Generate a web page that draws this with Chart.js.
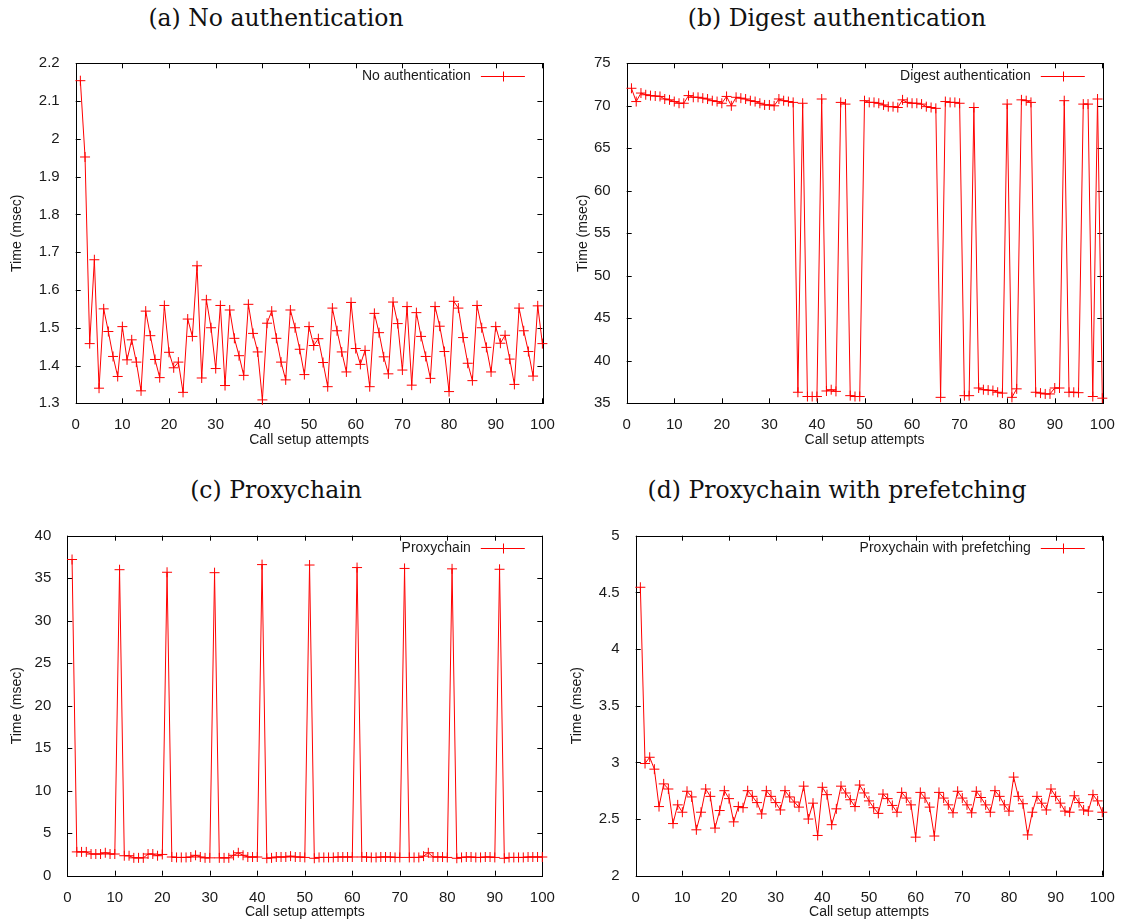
<!DOCTYPE html>
<html>
<head>
<meta charset="utf-8">
<title>Call setup time</title>
<script src="https://cdn.jsdelivr.net/npm/chart.js@4.4.1/dist/chart.umd.min.js"></script>
<style>
  body { margin: 0; background: #fff; width: 1126px; height: 923px; position: relative; overflow: hidden; }
  canvas { position: absolute; }
  .title { position: absolute; width: 500px; text-align: center; white-space: nowrap;
           font-family: "DejaVu Serif", serif; font-size: 23.5px; line-height: 30px; color: #111; }
</style>
</head>
<body>
<div class="title" style="left:26px; top:3px;">(a) No authentication</div>
<div class="title" style="left:587px; top:3px;">(b) Digest authentication</div>
<div class="title" style="left:26px; top:475px;">(c) Proxychain</div>
<div class="title" style="left:587px; top:475px;">(d) Proxychain with prefetching</div>

<canvas id="chartA"></canvas>
<canvas id="chartB"></canvas>
<canvas id="chartC"></canvas>
<canvas id="chartD"></canvas>

<script>
const attempts = [1, 2, 3, 4, 5, 6, 7, 8, 9, 10, 11, 12, 13, 14, 15, 16, 17, 18, 19, 20,
  21, 22, 23, 24, 25, 26, 27, 28, 29, 30, 31, 32, 33, 34, 35, 36, 37, 38, 39, 40,
  41, 42, 43, 44, 45, 46, 47, 48, 49, 50, 51, 52, 53, 54, 55, 56, 57, 58, 59, 60,
  61, 62, 63, 64, 65, 66, 67, 68, 69, 70, 71, 72, 73, 74, 75, 76, 77, 78, 79, 80,
  81, 82, 83, 84, 85, 86, 87, 88, 89, 90, 91, 92, 93, 94, 95, 96, 97, 98, 99, 100];
const xTicks = [0, 10, 20, 30, 40, 50, 60, 70, 80, 90, 100];

// (a) no authentication, msec
const noAuth = [2.154, 1.952, 1.458, 1.68, 1.34, 1.55, 1.49, 1.424, 1.371, 1.503,
  1.415, 1.468, 1.409, 1.333, 1.544, 1.479, 1.416, 1.368, 1.559, 1.435,
  1.394, 1.409, 1.329, 1.523, 1.477, 1.664, 1.367, 1.574, 1.50, 1.392,
  1.559, 1.347, 1.547, 1.472, 1.426, 1.374, 1.562, 1.485, 1.436, 1.309,
  1.512, 1.544, 1.472, 1.409, 1.362, 1.547, 1.50, 1.443, 1.376, 1.503,
  1.453, 1.471, 1.408, 1.344, 1.552, 1.492, 1.436, 1.383, 1.567, 1.445,
  1.403, 1.44, 1.344, 1.538, 1.487, 1.423, 1.378, 1.568, 1.511, 1.388,
  1.556, 1.348, 1.54, 1.477, 1.424, 1.366, 1.556, 1.504, 1.437, 1.331,
  1.57, 1.552, 1.474, 1.406, 1.36, 1.559, 1.50, 1.448, 1.383, 1.503,
  1.459, 1.48, 1.417, 1.35, 1.552, 1.492, 1.437, 1.372, 1.558, 1.458];

// (b) digest authentication
const digest = [72.06, 70.5, 71.5, 71.3, 71.2, 71.15, 71.1, 70.8, 70.7, 70.5,
  70.3, 70.3, 71.2, 71.0, 71.0, 70.9, 70.8, 70.6, 70.5, 70.3,
  71.1, 70.0, 71.0, 70.9, 70.8, 70.6, 70.5, 70.3, 70.1, 70.1,
  70.0, 70.8, 70.6, 70.5, 70.4, 36.3, 70.3, 35.8, 35.8, 35.8,
  70.8, 36.45, 36.6, 36.4, 70.4, 70.2, 35.9, 35.8, 35.8, 70.6,
  70.4, 70.4, 70.3, 70.1, 69.9, 69.9, 69.8, 70.7, 70.4, 70.3,
  70.3, 70.2, 69.9, 69.8, 69.7, 35.7, 70.5, 70.4, 70.4, 70.3,
  35.9, 35.9, 69.8, 36.8, 36.6, 36.55, 36.5, 36.3, 36.2, 70.2,
  35.7, 36.7, 70.7, 70.6, 70.4, 36.3, 36.2, 36.1, 36.1, 36.8,
  36.8, 70.6, 36.3, 36.3, 36.25, 70.2, 70.2, 35.8, 70.8, 35.6];

// (c) proxychain
const proxychain = [37.2, 2.8, 2.8, 2.8, 2.55, 2.55, 2.55, 2.7, 2.55, 2.55,
  36.0, 2.35, 2.35, 2.1, 2.1, 2.1, 2.55, 2.55, 2.35, 2.5,
  35.7, 2.2, 2.15, 2.15, 2.15, 2.2, 2.4, 2.2, 2.1, 2.1,
  35.65, 2.1, 2.1, 2.1, 2.4, 2.7, 2.4, 2.2, 2.2, 2.2,
  36.6, 2.05, 2.1, 2.2, 2.2, 2.2, 2.3, 2.2, 2.2, 2.15,
  36.55, 2.05, 2.15, 2.15, 2.15, 2.15, 2.2, 2.2, 2.2, 2.2,
  36.25, 2.2, 2.2, 2.15, 2.15, 2.2, 2.2, 2.2, 2.15, 2.15,
  36.15, 2.15, 2.15, 2.15, 2.3, 2.7, 2.2, 2.2, 2.2, 2.15,
  36.1, 2.05, 2.15, 2.2, 2.2, 2.15, 2.15, 2.2, 2.2, 2.15,
  36.05, 2.05, 2.15, 2.15, 2.15, 2.15, 2.2, 2.2, 2.2, 2.2];

// (d) proxychain with prefetching
const prefetch = [4.545, 2.99, 3.045, 2.94, 2.61, 2.81, 2.765, 2.46, 2.625, 2.56,
  2.745, 2.695, 2.405, 2.56, 2.765, 2.70, 2.42, 2.575, 2.75, 2.68,
  2.475, 2.61, 2.60, 2.75, 2.70, 2.645, 2.545, 2.75, 2.70, 2.645,
  2.58, 2.75, 2.695, 2.65, 2.605, 2.79, 2.50, 2.64, 2.355, 2.78,
  2.715, 2.45, 2.59, 2.79, 2.73, 2.67, 2.61, 2.80, 2.73, 2.66,
  2.60, 2.55, 2.72, 2.68, 2.62, 2.56, 2.735, 2.685, 2.625, 2.34,
  2.735, 2.685, 2.605, 2.35, 2.735, 2.685, 2.625, 2.555, 2.745, 2.685,
  2.625, 2.555, 2.745, 2.69, 2.625, 2.56, 2.75, 2.70, 2.625, 2.57,
  2.87, 2.70, 2.635, 2.36, 2.56, 2.70, 2.64, 2.58, 2.765, 2.70,
  2.64, 2.57, 2.56, 2.705, 2.645, 2.58, 2.57, 2.715, 2.66, 2.56];

const yTicksA = [1.3, 1.4, 1.5, 1.6, 1.7, 1.8, 1.9, 2, 2.1, 2.2];
const yTicksB = [35, 40, 45, 50, 55, 60, 65, 70, 75];
const yTicksC = [0, 5, 10, 15, 20, 25, 30, 35, 40];
const yTicksD = [2, 2.5, 3, 3.5, 4, 4.5, 5];

const textColor = '#1a1a1a';
const sans = '"Liberation Sans", Arial, sans-serif';
const red = 'rgb(255, 0, 0)';

// gnuplot style border, ticks pointing inwards on all four sides
const framePlugin = {
  id: 'frame',
  beforeDatasetsDraw(chart) {
    const { ctx, chartArea: a, scales: { x, y } } = chart;
    ctx.save();
    ctx.strokeStyle = '#000';
    ctx.lineWidth = 1;
    ctx.beginPath();
    x.ticks.forEach((t, i) => {
      const px = Math.round(x.getPixelForTick(i)) + 0.5;
      ctx.moveTo(px, a.bottom); ctx.lineTo(px, a.bottom - 5);
      ctx.moveTo(px, a.top); ctx.lineTo(px, a.top + 5);
    });
    y.ticks.forEach((t, i) => {
      const py = Math.round(y.getPixelForTick(i)) + 0.5;
      ctx.moveTo(a.left, py); ctx.lineTo(a.left + 5, py);
      ctx.moveTo(a.right, py); ctx.lineTo(a.right - 5, py);
    });
    ctx.stroke();
    ctx.strokeRect(Math.round(a.left) + 0.5, Math.round(a.top) + 0.5,
      Math.round(a.right - a.left), Math.round(a.bottom - a.top));
    ctx.restore();
  }
};

// key in the top right corner: text first, then the line sample
const keyPlugin = {
  id: 'key',
  afterDatasetsDraw(chart) {
    const ds = chart.data.datasets[0];
    const { ctx, chartArea: a } = chart;
    const ky = Math.round(a.top + 12.5) + 0.5;
    ctx.save();
    ctx.font = '14px ' + sans;
    ctx.fillStyle = textColor;
    ctx.textAlign = 'right';
    ctx.textBaseline = 'middle';
    ctx.fillText(ds.label, a.right - 71.5, ky);
    ctx.strokeStyle = ds.borderColor;
    ctx.lineWidth = 1;
    ctx.beginPath();
    ctx.moveTo(a.right - 61.5, ky); ctx.lineTo(a.right - 17.5, ky);
    const mx = Math.round(a.right - 39.5) + 0.5;
    ctx.moveTo(mx, ky - 5); ctx.lineTo(mx, ky + 5);
    ctx.stroke();
    ctx.restore();
  }
};

function drawPanel(id, label, values, yTicks, frame, area, yTitleX) {
  const canvas = document.getElementById(id);
  canvas.style.left = frame.left + 'px';
  canvas.style.top = frame.top + 'px';
  canvas.width = frame.width;
  canvas.height = frame.height;
  const xAxisH = 45;

  new Chart(canvas, {
    type: 'line',
    data: {
      labels: attempts,
      datasets: [{
        label: label,
        data: values,
        borderColor: red,
        backgroundColor: red,
        borderWidth: 1,
        pointStyle: 'cross',
        pointRadius: 5,
        pointBorderWidth: 1,
        pointBorderColor: red,
        tension: 0,
        clip: false
      }]
    },
    plugins: [framePlugin, keyPlugin],
    options: {
      responsive: false,
      animation: false,
      events: [],
      layout: {
        padding: {
          left: 0,
          top: area.t - frame.top,
          right: frame.left + frame.width - area.r,
          bottom: frame.top + frame.height - area.b - xAxisH
        }
      },
      plugins: { legend: { display: false }, tooltip: { enabled: false } },
      scales: {
        x: {
          type: 'linear',
          min: 0,
          max: 100,
          afterBuildTicks: s => { s.ticks = xTicks.map(v => ({ value: v })); },
          afterFit: s => { s.height = xAxisH; },
          grid: { display: false },
          border: { display: false },
          ticks: { color: textColor, font: { family: sans, size: 15 }, padding: 5,
                   maxRotation: 0, autoSkip: false, callback: v => String(v) },
          title: { display: true, text: 'Call setup attempts', color: textColor,
                   font: { family: sans, size: 14 }, padding: 0 }
        },
        y: {
          type: 'linear',
          min: yTicks[0],
          max: yTicks[yTicks.length - 1],
          afterBuildTicks: s => { s.ticks = yTicks.map(v => ({ value: v })); },
          afterFit: s => { s.width = area.l - frame.left; },
          grid: { display: false },
          border: { display: false },
          ticks: { color: textColor, font: { family: sans, size: 15 }, padding: 8,
                   autoSkip: false, callback: v => String(v) },
          title: { display: true, text: 'Time (msec)', color: textColor,
                   font: { family: sans, size: 14 },
                   padding: { top: yTitleX - frame.left - 8.4, bottom: 0 } }
        }
      }
    }
  });
}

drawPanel('chartA', 'No authentication', noAuth, yTicksA,
  { left: 0, top: 40, width: 563, height: 430 }, { l: 75.7, r: 542.4, t: 63.3, b: 403.3 }, 17);
drawPanel('chartB', 'Digest authentication', digest, yTicksB,
  { left: 563, top: 40, width: 563, height: 430 }, { l: 626.7, r: 1102.3, t: 63.3, b: 403.3 }, 583);
drawPanel('chartC', 'Proxychain', proxychain, yTicksC,
  { left: 0, top: 475, width: 563, height: 448 }, { l: 67.3, r: 542.3, t: 535.7, b: 875.7 }, 17);
drawPanel('chartD', 'Proxychain with prefetching', prefetch, yTicksD,
  { left: 563, top: 475, width: 563, height: 448 }, { l: 635.7, r: 1102.3, t: 535.7, b: 875.7 }, 577);
</script>
</body>
</html>
